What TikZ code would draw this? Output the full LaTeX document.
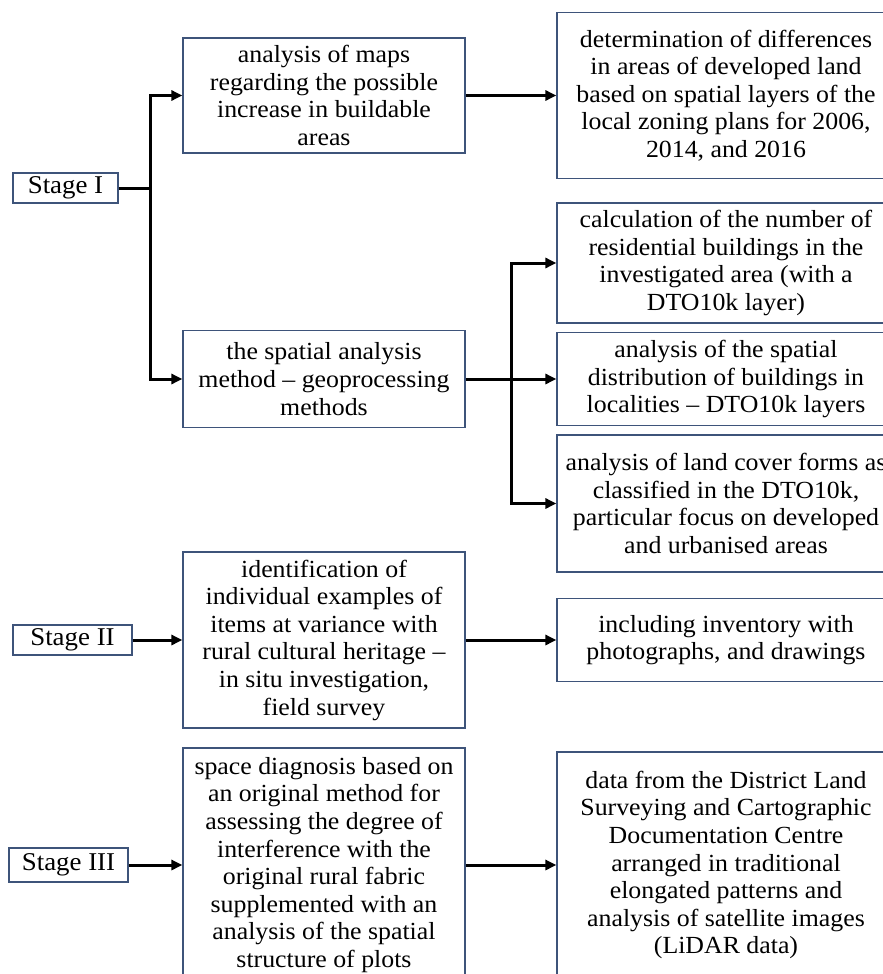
\documentclass[tikz,border=0pt]{standalone}
\usepackage{fontspec}
\setmainfont[FakeStretch=1.05]{Liberation Serif}
\usetikzlibrary{arrows.meta}
\definecolor{rand}{RGB}{62,84,122}
\tikzset{
  groesse/.style 2 args={minimum width=#1*0.5pt,minimum height=#2*0.5pt},
  kasten/.style={draw=rand,line width=0.6pt,align=center,inner sep=0pt,
    font=\fontsize{12.3}{13.8}\selectfont},
  stufe/.style={kasten,font=\fontsize{12.8}{14}\selectfont},
  linie/.style={line width=1.5pt},
  pfeil/.style={linie,-{Triangle[length=5.5pt,width=5pt]}},
}
\begin{document}
\begin{tikzpicture}[x=0.5pt,y=-0.5pt]
%alles in Pixeln des Bildes (883 x 974)
\useasboundingbox (0,0) rectangle (883,974);
\clip (0,0) rectangle (883,974);
  \pgfmathsetmacro{\xL}{324}
  \pgfmathsetmacro{\xR}{726}
%Stufen
\node[stufe,groesse={105}{30}] (stageI) at (65.5,188) {Stage I};
\node[stufe,groesse={119}{30}] (stageII) at (72.5,640) {Stage II};
\node[stufe,groesse={119}{34}] (stageIII) at (68.5,865) {Stage III};
%mittlere Spalte
\node[kasten,groesse={282}{115}] (maps) at (\xL,95.5) {analysis of maps\\regarding the possible\\increase in buildable\\areas};
\node[kasten,groesse={282}{97}] (spatial) at (\xL,379) {the spatial analysis\\method -- geoprocessing\\methods};
\node[kasten,groesse={282}{176}] (ident) at (\xL,640) {identification of\\individual examples of\\items at variance with\\rural cultural heritage --\\in situ investigation,\\field survey};
\node[kasten,groesse={282}{234}] (diag) at (\xL,865) {space diagnosis based on\\an original method for\\assessing the degree of\\interference with the\\original rural fabric\\supplemented with an\\analysis of the spatial\\structure of plots};
%rechte Spalte
\node[kasten,groesse={338}{166}] (diff) at (\xR,95.5) {determination of differences\\in areas of developed land\\based on spatial layers of the\\local zoning plans for 2006,\\2014, and 2016};
\node[kasten,groesse={338}{120}] (calc) at (\xR,263) {calculation of the number of\\residential buildings in the\\investigated area (with a\\DTO10k layer)};
\node[kasten,groesse={338}{93}] (distrib) at (\xR,379) {analysis of the spatial\\distribution of buildings in\\localities -- DTO10k layers};
\node[kasten,groesse={338}{137}] (cover) at (\xR,503.5) {analysis of land cover forms as\\classified in the DTO10k,\\particular focus on developed\\and urbanised areas};
\node[kasten,groesse={338}{83}] (invent) at (\xR,640) {including inventory with\\photographs, and drawings};
\node[kasten,groesse={338}{226}] (data) at (\xR,865) {data from the District Land\\Surveying and Cartographic\\Documentation Centre\\arranged in traditional\\elongated patterns and\\analysis of satellite images\\(LiDAR data)};
%Pfeile
\coordinate (gabelI) at (150,188);
\coordinate (gabelII) at (511,379);
\draw[pfeil] (stageI.east) -- (gabelI) |- (maps.west);
\draw[pfeil] (gabelI) |- (spatial.west);
\draw[pfeil] (maps.east) -- (diff.west);
\draw[linie] (spatial.east) -- (gabelII);
\foreach \ziel in {calc,distrib,cover}{
\draw[pfeil] (gabelII) |- (\ziel.west);
}
\draw[pfeil] (stageII.east) -- (ident.west);
\draw[pfeil] (ident.east) -- (invent.west);
\draw[pfeil] (stageIII.east) -- (diag.west);
\draw[pfeil] (diag.east) -- (data.west);
\end{tikzpicture}
\end{document}
